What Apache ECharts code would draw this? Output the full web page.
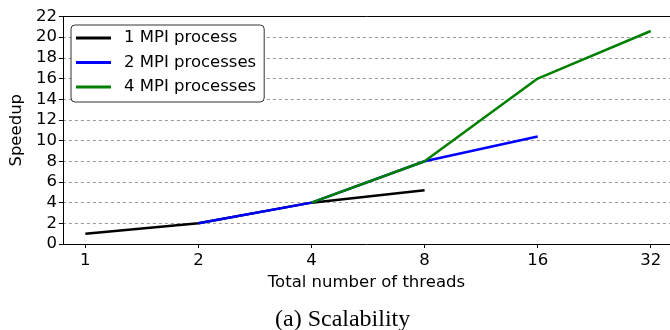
<!DOCTYPE html>
<html><head><meta charset="utf-8">
<script src="https://cdn.jsdelivr.net/npm/echarts@6/dist/echarts.min.js"></script>
<style>html,body{margin:0;padding:0;background:#fff}#c{width:670px;height:330px}</style>
</head><body><div id="c"></div>
<script>
const threads = [1, 2, 4, 8, 16, 32];
const seriesNames = ['1 MPI process', '2 MPI processes', '4 MPI processes'];
const mpi1 = [[1, 1], [2, 2], [4, 4], [8, 5.2]];
const mpi2 = [[2, 2], [4, 4], [8, 8], [16, 10.4]];
const mpi4 = [[4, 4], [8, 8], [16, 16], [32, 20.6]];
const yTicks = [0, 2, 4, 6, 8, 10, 12, 14, 16, 18, 20, 22];
const colors = ['#000000', '#0000ff', '#008000'];

const font = 'DejaVu Sans';
const fs = 16.5;
const xMin = 0.8713, xMax = 36.01;
const chart = echarts.init(document.getElementById('c'), null, {renderer: 'canvas'});
chart.setOption({
  animation: false,
  textStyle: {fontFamily: font},
  grid: {left: 62, right: 0, top: 16.5, bottom: 86, show: false},
  title: {text: '(a) Scalability', left: 275, top: 308, padding: 0, textStyle: {fontFamily: 'Liberation Serif', fontWeight: 'normal', fontSize: 24, color: '#000'}},
  legend: {
    show: true, orient: 'vertical', left: 71, top: 25,
    padding: [4, 8, 6, 5], itemGap: 6.5, itemWidth: 35, itemHeight: 3, icon: 'rect',
    backgroundColor: '#fff', borderColor: '#333', borderWidth: 1, borderRadius: 4,
    textStyle: {fontFamily: font, fontSize: fs, color: '#000', lineHeight: 18, padding: [0, 0, 0, 8]},
    data: seriesNames
  },
  xAxis: [{
    type: 'log', logBase: 2, min: xMin, max: xMax,
    name: 'Total number of threads', nameLocation: 'middle', nameGap: 30,
    nameTextStyle: {fontFamily: font, fontSize: fs, color: '#000'},
    axisLine: {show: true, lineStyle: {color: '#000', width: 1}},
    axisTick: {show: true, length: 4, inside: false, customValues: threads, lineStyle: {color: '#000'}},
    axisLabel: {show: true, customValues: threads, margin: 8, fontFamily: font, fontSize: fs, color: '#000', formatter: v => String(Math.round(v))},
    splitLine: {show: false}, minorTick: {show: false}
  }, {
    type: 'log', logBase: 2, min: xMin, max: xMax, position: 'top',
    axisLine: {show: true, lineStyle: {color: '#000', width: 1}},
    axisTick: {show: false}, axisLabel: {show: false}, splitLine: {show: false}
  }],
  yAxis: {
    type: 'value', min: 0, max: 22, interval: 2,
    name: 'Speedup', nameLocation: 'middle', nameGap: 37,
    nameTextStyle: {fontFamily: font, fontSize: fs, color: '#000'},
    axisLine: {show: true, lineStyle: {color: '#000', width: 1}},
    axisTick: {show: true, length: 4, inside: false, lineStyle: {color: '#000'}},
    axisLabel: {margin: 6, fontFamily: font, fontSize: fs, color: '#000', formatter: v => yTicks.includes(v) ? String(v) : ''},
    splitLine: {show: true, showMinLine: false, showMaxLine: false, lineStyle: {color: '#999', type: [3, 3], width: 1}}
  },
  series: [mpi1, mpi2, mpi4].map((d, i) => ({
    name: seriesNames[i], type: 'line', data: d, showSymbol: false, symbol: 'none',
    xAxisIndex: 0,
    lineStyle: {color: colors[i], width: 2.5}, itemStyle: {color: colors[i]}, z: 2 + i
  }))
});
</script></body></html>
